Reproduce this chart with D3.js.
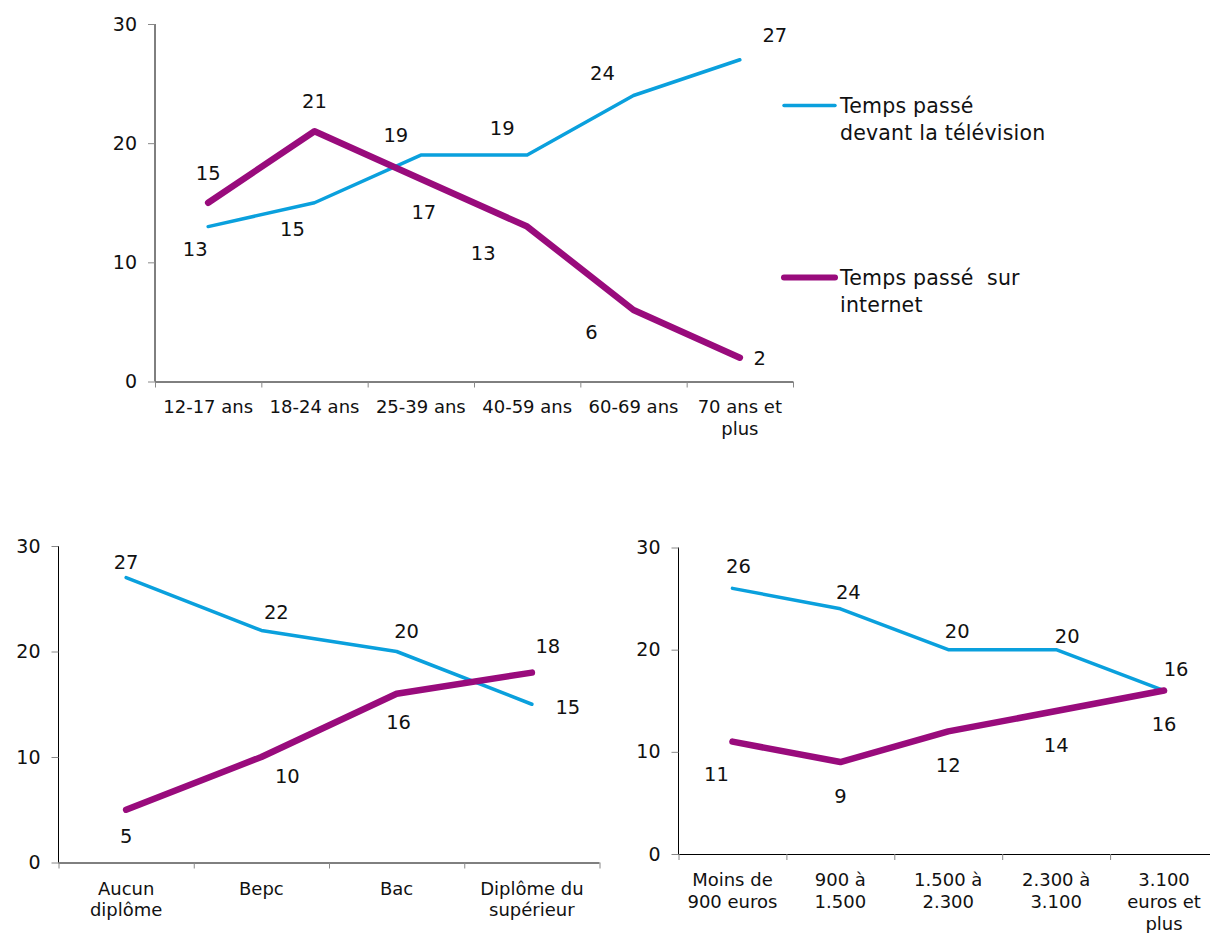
<!DOCTYPE html>
<html><head><meta charset="utf-8">
<script src="https://cdn.jsdelivr.net/npm/d3@7"></script>
<style>body{margin:0;background:#fff} svg{display:block}</style>
</head><body>
<svg id="c" width="1210" height="933"></svg>
<script>
// ---- data ----
const ageCategories = ["12-17 ans","18-24 ans","25-39 ans","40-59 ans","60-69 ans","70 ans et\nplus"];
const ageTV = [13,15,19,19,24,27];
const ageInternet = [15,21,17,13,6,2];

const diplomaCategories = ["Aucun\ndiplôme","Bepc","Bac","Diplôme du\nsupérieur"];
const diplomaTV = [27,22,20,15];
const diplomaInternet = [5,10,16,18];

const incomeCategories = ["Moins de\n900 euros","900 à\n1.500","1.500 à\n2.300","2.300 à\n3.100","3.100\neuros et\nplus"];
const incomeTV = [26,24,20,20,16];
const incomeInternet = [11,9,12,14,16];

const yTicks = [0,10,20,30];
const seriesNames = ["Temps passé\ndevant la télévision","Temps passé  sur\ninternet"];

// ---- label placement (pixel offsets from points) ----
const ageTVLabelOff = [[-13,22],[-22,26],[-25,-20],[-25,-27],[-31,-23],[35,-25]];
const ageNetLabelOff = [[0,-30],[0,-30],[3,33],[-44,26],[-42,22],[20,0]];
const dipTVLabelOff = [[0,-16],[15,-18],[10,-21],[36,3]];
const dipNetLabelOff = [[0,26],[26,19],[2,28],[16,-27]];
const incTVLabelOff = [[6,-22],[8,-17],[9,-19],[11,-14],[12,-22]];
const incNetLabelOff = [[-16,32],[0,34],[0,34],[0,34],[0,33]];

const BLUE = "#0aa0dd", PURPLE = "#990b7c";
const NUMFONT = "'DejaVu Sans', Verdana, sans-serif";
const CATFONT = "'DejaVu Sans', Verdana, sans-serif";

const svg = d3.select("#c");

function drawChart(cfg){
  const g = svg.append("g");
  const x = d3.scaleBand().domain(d3.range(cfg.categories.length)).range([cfg.x0, cfg.x1]).padding(0);
  const y = d3.scaleLinear().domain([0,30]).range([cfg.yBot, cfg.yTop]);

  // y axis
  const ya = g.append("g").attr("transform", `translate(${cfg.x0},0)`)
    .call(d3.axisLeft(y).tickValues(yTicks).tickSize(7).tickPadding(11));
  ya.select(".domain").attr("stroke","#000").attr("d", `M0,${cfg.yTop}V${cfg.yBot}`);
  ya.selectAll(".tick line").attr("stroke","#888");
  ya.selectAll(".tick text").attr("font-family", NUMFONT).attr("font-size", 19).attr("fill","#111");

  // x axis
  const bounds = d3.range(cfg.categories.length+1).map(i => i < cfg.categories.length ? x(i) : x(i-1)+x.bandwidth());
  g.append("line").attr("x1",cfg.x0).attr("x2",cfg.x1).attr("y1",cfg.yBot+0.5).attr("y2",cfg.yBot+0.5).attr("stroke","#000");
  g.selectAll("line.xt").data(bounds).enter().append("line").attr("class","xt")
    .attr("x1",d=>d+0.5).attr("x2",d=>d+0.5).attr("y1",cfg.yBot).attr("y2",cfg.yBot+6).attr("stroke","#888");
  cfg.categories.forEach((c,i)=>{
    const t = g.append("text").attr("text-anchor","middle")
      .attr("font-family", cfg.catFont).attr("font-size", cfg.catSize).attr("fill","#111");
    c.split("\n").forEach((ln,j)=>{
      t.append("tspan").attr("x", x(i)+x.bandwidth()/2).attr("y", cfg.catBase + j*cfg.catLH).text(ln);
    });
  });

  const line = d3.line().x((d,i)=>x(i)+x.bandwidth()/2).y(d=>y(d));
  g.append("path").datum(cfg.tv).attr("d",line).attr("fill","none").attr("stroke",BLUE)
    .attr("stroke-width",3.5).attr("stroke-linejoin","round").attr("stroke-linecap","round");
  g.append("path").datum(cfg.net).attr("d",line).attr("fill","none").attr("stroke",PURPLE)
    .attr("stroke-width",6.5).attr("stroke-linejoin","round").attr("stroke-linecap","round");

  const lab = (vals, off) => vals.forEach((v,i)=>{
    g.append("text").attr("x", x(i)+x.bandwidth()/2 + off[i][0]).attr("y", y(v)+off[i][1])
      .attr("dy","0.36em").attr("text-anchor","middle")
      .attr("font-family", NUMFONT).attr("font-size", 19.5).attr("fill","#111").text(v);
  });
  lab(cfg.tv, cfg.tvOff);
  lab(cfg.net, cfg.netOff);
}

drawChart({categories: ageCategories, tv: ageTV, net: ageInternet, tvOff: ageTVLabelOff, netOff: ageNetLabelOff,
  x0:155, x1:793, yTop:24, yBot:381.5, catFont: CATFONT, catSize:18, catBase:413, catLH:22});
drawChart({categories: diplomaCategories, tv: diplomaTV, net: diplomaInternet, tvOff: dipTVLabelOff, netOff: dipNetLabelOff,
  x0:58.5, x1:599.5, yTop:546, yBot:862.5, catFont: CATFONT, catSize:18, catBase:895, catLH:21});
drawChart({categories: incomeCategories, tv: incomeTV, net: incomeInternet, tvOff: incTVLabelOff, netOff: incNetLabelOff,
  x0:678.5, x1:1218, yTop:547.5, yBot:854, catFont: CATFONT, catSize:18, catBase:886, catLH:22});

// legend
const legend = [{color:BLUE, w:3.5, y:105.5, base:113, name:seriesNames[0]},
                {color:PURPLE, w:6, y:277.5, base:285, name:seriesNames[1]}];
legend.forEach(l=>{
  svg.append("line").attr("x1",784).attr("x2",835).attr("y1",l.y).attr("y2",l.y)
    .attr("stroke",l.color).attr("stroke-width",l.w).attr("stroke-linecap","round");
  const t = svg.append("text").attr("font-family", CATFONT).attr("font-size",20.5).attr("fill","#111")
    .attr("letter-spacing", 0.2);
  l.name.split("\n").forEach((ln,j)=>{
    t.append("tspan").attr("x",840).attr("y",l.base + j*27).attr("xml:space","preserve").text(ln);
  });
});
</script>
</body></html>
